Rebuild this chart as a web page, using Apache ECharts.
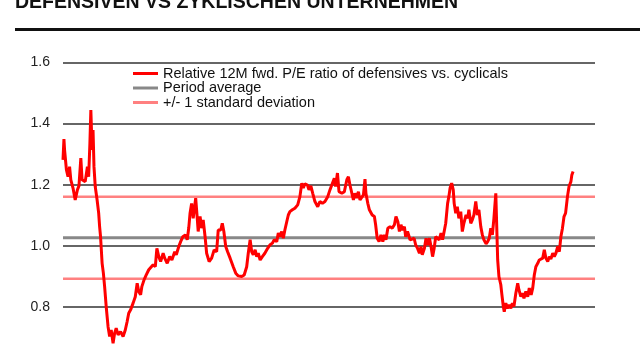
<!DOCTYPE html>
<html>
<head>
<meta charset="utf-8">
<script src="https://cdn.jsdelivr.net/npm/echarts@6/dist/echarts.min.js"></script>
<style>
html,body{margin:0;padding:0;background:#fff;overflow:hidden;width:640px;height:360px;}
#chart{width:640px;height:372px;}
</style>
</head>
<body>
<div id="chart"></div>
<script>
const titleText = 'DEFENSIVEN VS ZYKLISCHEN UNTERNEHMEN';
const seriesNames = ['Relative 12M fwd. P/E ratio of defensives vs. cyclicals', 'Period average', '+/- 1 standard deviation'];
const yTicks = [0.6, 0.8, 1.0, 1.2, 1.4, 1.6];
const xRange = [2005, 2022];
const periodAverage = 1.027;
const stdDev = 0.134;

const years = [
2005.00,2005.03,2005.05,2005.11,2005.16,2005.21,2005.25,2005.32,2005.39,2005.46,2005.51,2005.57,2005.61,2005.67,2005.71,2005.78,2005.82,2005.86,2005.89,2005.93,2005.96,2005.99,
2006.03,2006.09,2006.14,2006.17,2006.20,2006.25,2006.29,2006.33,2006.38,2006.44,2006.49,2006.54,2006.60,2006.65,2006.70,2006.76,2006.84,2006.92,2006.99,
2007.05,2007.10,2007.16,2007.24,2007.31,2007.37,2007.42,2007.48,2007.52,2007.59,2007.66,2007.74,2007.80,2007.88,2007.95,
2008.00,2008.06,2008.12,2008.20,2008.25,2008.33,2008.41,2008.48,2008.57,2008.62,2008.70,2008.76,2008.83,2008.91,2008.97,
2009.02,2009.06,2009.11,2009.16,2009.24,2009.29,2009.32,2009.38,2009.43,2009.48,2009.54,2009.59,2009.67,2009.75,2009.83,2009.91,2009.96,
2010.04,2010.09,2010.14,2010.20,2010.26,2010.34,2010.39,2010.44,2010.52,2010.60,2010.71,2010.79,2010.87,2010.92,2010.98,
2011.03,2011.08,2011.14,2011.19,2011.24,2011.30,2011.37,2011.45,2011.54,2011.61,2011.69,2011.75,2011.83,2011.88,2011.93,2011.99,
2012.04,2012.09,2012.15,2012.20,2012.25,2012.33,2012.41,2012.50,2012.57,2012.63,2012.68,2012.73,2012.81,2012.86,2012.92,2012.98,
2013.05,2013.14,2013.21,2013.29,2013.37,2013.46,2013.53,2013.61,2013.67,2013.71,2013.77,2013.82,2013.91,2013.99,
2014.07,2014.12,2014.17,2014.23,2014.28,2014.33,2014.38,2014.44,2014.49,2014.54,2014.60,2014.65,2014.68,2014.74,2014.79,2014.84,2014.88,2014.95,2014.99,
2015.04,2015.10,2015.16,2015.22,2015.27,2015.32,2015.38,2015.45,2015.52,2015.59,2015.64,2015.70,2015.75,2015.80,2015.85,2015.91,2015.95,
2016.01,2016.09,2016.14,2016.22,2016.27,2016.33,2016.39,2016.44,2016.48,2016.55,2016.60,2016.65,2016.71,2016.76,2016.81,2016.86,2016.91,2016.97,
2017.02,2017.08,2017.13,2017.18,2017.23,2017.29,2017.33,2017.37,2017.42,2017.47,2017.50,2017.55,2017.60,2017.65,2017.71,2017.76,2017.81,2017.88,2017.93,2017.97,
2018.03,2018.08,2018.13,2018.19,2018.24,2018.29,2018.35,2018.40,2018.45,2018.52,2018.57,2018.62,2018.67,2018.72,2018.77,2018.83,2018.86,2018.89,2018.93,2018.99,
2019.02,2019.07,2019.10,2019.15,2019.20,2019.25,2019.31,2019.36,2019.41,2019.47,2019.53,2019.57,2019.63,2019.68,2019.73,2019.79,2019.85,2019.90,2019.96,
2020.01,2020.06,2020.11,2020.17,2020.22,2020.27,2020.33,2020.38,2020.43,2020.49,2020.54,2020.59,2020.65,2020.70,2020.75,2020.81,2020.86,2020.91,2020.96,
2021.01,2021.06,2021.12,2021.17,2021.23,2021.26,2021.30
];

const ratio = [
1.281,1.349,1.314,1.248,1.226,1.259,1.216,1.189,1.150,1.183,1.196,1.287,1.216,1.221,1.210,1.259,1.226,1.336,1.444,1.314,1.379,1.259,
1.194,1.150,1.107,1.063,1.030,0.943,0.911,0.867,0.802,0.736,0.704,0.725,0.682,0.715,0.731,0.709,0.720,0.704,0.725,
0.753,0.780,0.791,0.813,0.834,0.878,0.851,0.840,0.867,0.889,0.905,0.922,0.916,0.938,0.932,
0.992,0.965,0.949,0.976,0.960,0.943,0.965,0.954,0.981,0.971,0.998,1.014,1.030,1.036,1.020,
1.060,1.107,1.139,1.090,1.156,1.090,1.047,1.096,1.058,1.085,1.030,0.976,0.949,0.960,0.987,0.981,1.052,
1.052,1.074,1.047,0.998,0.981,0.960,0.954,0.932,0.911,0.902,0.900,0.905,0.932,0.976,1.020,
0.981,0.971,0.987,0.965,0.976,0.954,0.965,0.976,0.992,1.003,1.009,1.020,1.014,1.042,1.030,1.047,
1.025,1.052,1.079,1.101,1.112,1.118,1.123,1.134,1.161,1.205,1.189,1.203,1.199,1.183,1.196,1.172,
1.145,1.128,1.145,1.139,1.145,1.161,1.183,1.205,1.221,1.194,1.238,1.177,1.172,1.177,
1.216,1.226,1.199,1.172,1.150,1.172,1.156,1.177,1.150,1.156,1.167,1.218,1.172,1.139,1.118,1.123,1.101,1.096,1.069,
1.025,1.014,1.036,1.014,1.036,1.020,1.058,1.063,1.058,1.069,1.096,1.079,1.047,1.069,1.052,1.063,1.030,
1.047,1.020,1.014,1.025,1.003,0.992,0.976,0.998,0.971,0.992,1.025,1.003,1.025,0.998,0.965,0.992,1.030,1.036,
1.020,1.042,1.020,1.025,1.074,1.139,1.161,1.189,1.205,1.183,1.139,1.107,1.128,1.090,1.112,1.047,1.074,1.101,1.090,1.118,
1.074,1.085,1.101,1.145,1.101,1.118,1.063,1.036,1.020,1.007,1.014,1.025,1.058,1.036,1.090,1.172,1.063,0.954,0.900,0.873,
0.845,0.802,0.785,0.813,0.796,0.807,0.796,0.813,0.802,0.845,0.878,0.856,0.834,0.845,0.829,0.851,0.834,0.862,0.840,
0.862,0.905,0.932,0.943,0.954,0.949,0.960,0.987,0.960,0.949,0.965,0.957,0.976,0.965,0.976,0.998,0.981,1.030,1.058,
1.096,1.107,1.161,1.194,1.210,1.232,1.243
];

const chart = echarts.init(document.getElementById('chart'), null, {renderer: 'canvas'});
const FONT = '"Liberation Sans", Arial, sans-serif';
const mainData = years.map((y, i) => [y, ratio[i]]);
const flat = v => [[xRange[0], v], [xRange[1], v]];

chart.setOption({
  animation: false,
  backgroundColor: '#fff',
  graphic: [
    { type: 'text', left: 15, top: -7, style: { text: titleText, font: 'bold 19.5px ' + FONT, fill: '#111' } },
    { type: 'rect', shape: { x: 15, y: 28, width: 625, height: 3 }, style: { fill: '#111' } }
  ],
  legend: {
    orient: 'vertical', left: 133, top: 66, padding: 0,
    itemWidth: 25, itemHeight: 3, itemGap: -0.5,
    textStyle: { fontFamily: FONT, fontSize: 14.5, color: '#111' },
    data: seriesNames.map(n => ({ name: n, icon: 'rect' }))
  },
  grid: { left: 63, right: 45, top: 62.3, height: 306, containLabel: false },
  xAxis: {
    type: 'value', min: xRange[0], max: xRange[1],
    axisLine: { show: false }, axisTick: { show: false }, axisLabel: { show: false }, splitLine: { show: false }
  },
  yAxis: {
    type: 'value', min: yTicks[0], max: yTicks[yTicks.length - 1], interval: 0.2,
    axisLine: { show: false }, axisTick: { show: false },
    axisLabel: { margin: 13, showMinLabel: false, fontFamily: FONT, fontSize: 14, color: '#222', formatter: v => v.toFixed(1) },
    splitLine: { lineStyle: { color: '#333', width: 1.5 } }
  },
  series: [
    { name: seriesNames[2], type: 'line', data: flat(periodAverage + stdDev), showSymbol: false, symbol: 'none', color: '#FF8080', lineStyle: { width: 2.5 }, z: 2 },
    { name: seriesNames[2], type: 'line', data: flat(periodAverage - stdDev), showSymbol: false, symbol: 'none', color: '#FF8080', lineStyle: { width: 2.5 }, z: 2 },
    { name: seriesNames[1], type: 'line', data: flat(periodAverage), showSymbol: false, symbol: 'none', color: '#888888', lineStyle: { width: 3 }, z: 2 },
    { name: seriesNames[0], type: 'line', data: mainData, showSymbol: false, symbol: 'none', color: '#FF0000', lineStyle: { width: 3 }, z: 3 }
  ]
});
</script>
</body>
</html>
